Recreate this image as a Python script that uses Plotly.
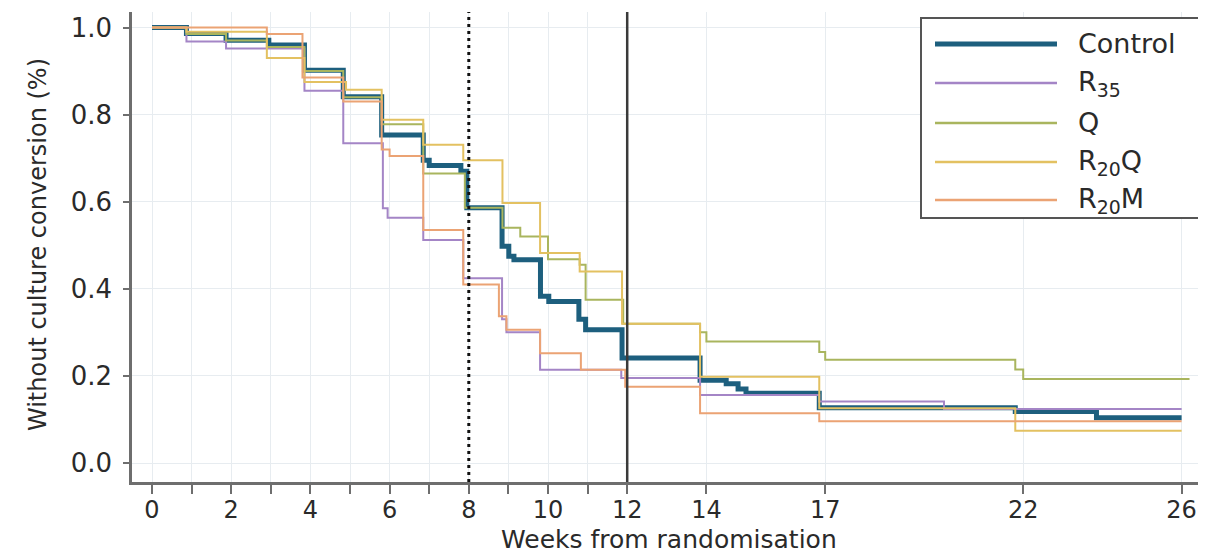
import plotly.graph_objects as go

# ---- data (weeks from randomisation, proportion without culture conversion) ----
control_t = [0, 0.87, 1.87, 2.95, 3.85, 4.83, 5.8, 6.85, 7.0, 7.8, 7.95, 8.84, 9.01, 9.14, 9.81, 10.02,
             10.78, 10.95, 11.87, 13.84, 14.5, 14.8, 15.0, 16.85, 21.8, 23.85, 26.0]
control_s = [1.0, 0.986, 0.971, 0.96, 0.902, 0.841, 0.753, 0.695, 0.683, 0.67, 0.586, 0.498, 0.475, 0.467,
             0.383, 0.371, 0.33, 0.306, 0.241, 0.19, 0.182, 0.17, 0.16, 0.127, 0.118, 0.104, 0.104]

r35_t = [0, 0.87, 1.87, 3.85, 4.83, 5.83, 5.95, 6.85, 7.86, 8.84, 8.95, 9.8, 11.85, 13.84, 16.85, 20.0, 26.0]
r35_s = [1.0, 0.968, 0.952, 0.855, 0.734, 0.585, 0.563, 0.512, 0.424, 0.33, 0.30, 0.214, 0.195, 0.156,
         0.141, 0.124, 0.124]

q_t = [0, 0.87, 1.87, 2.9, 3.85, 4.83, 5.8, 6.85, 7.9, 8.85, 9.3, 10.0, 10.8, 10.95, 11.9, 13.84, 14.0,
       16.85, 17.0, 21.8, 22.0, 26.2]
q_s = [1.0, 0.985, 0.97, 0.955, 0.9, 0.84, 0.778, 0.665, 0.586, 0.54, 0.52, 0.468, 0.455, 0.375, 0.32,
       0.30, 0.279, 0.255, 0.237, 0.215, 0.193, 0.193]

r20q_t = [0, 0.87, 2.9, 3.85, 4.9, 5.8, 6.85, 7.86, 8.85, 9.8, 10.8, 11.87, 13.84, 16.85, 21.8, 26.0]
r20q_s = [1.0, 0.99, 0.93, 0.875, 0.857, 0.788, 0.731, 0.695, 0.597, 0.482, 0.44, 0.32, 0.198, 0.126,
          0.074, 0.074]

r20m_t = [0, 2.9, 3.8, 4.83, 5.8, 6.0, 6.85, 7.86, 8.76, 8.95, 9.8, 10.83, 11.95, 13.84, 16.85, 26.0]
r20m_s = [1.0, 0.985, 0.885, 0.83, 0.72, 0.705, 0.535, 0.41, 0.337, 0.306, 0.252, 0.214, 0.175, 0.114,
          0.096, 0.096]

series_names = ["Control", "R<sub>35</sub>", "Q", "R<sub>20</sub>Q", "R<sub>20</sub>M"]
series_colors = ["#1d5f7e", "#a485c6", "#a9b55e", "#e3c161", "#eba374"]
series_widths = [5, 2, 2, 2, 2]

x_tick_vals = [0, 2, 4, 6, 8, 10, 12, 14, 17, 22, 26]
x_tick_text = [str(v) for v in x_tick_vals]
x_minor_vals = [1, 3, 5, 7, 9, 11]
y_tick_vals = [0.0, 0.2, 0.4, 0.6, 0.8, 1.0]
y_tick_text = ["0.0", "0.2", "0.4", "0.6", "0.8", "1.0"]

dotted_week = 8
solid_week = 12

FONT = "DejaVu Sans"
TXT = "#2a2a2a"
AX = "#6e6e6e"
GRID = "#e7ecf0"

fig = go.Figure()
all_t = [control_t, r35_t, q_t, r20q_t, r20m_t]
all_s = [control_s, r35_s, q_s, r20q_s, r20m_s]
for t, s, n, c, w in zip(all_t, all_s, series_names, series_colors, series_widths):
    fig.add_trace(go.Scatter(x=t, y=s, mode="lines", name=n, line=dict(color=c, width=w, shape="hv"),
                             showlegend=False))

# The page body adds an 8px offset; the figure is sized so it fills the 1206x554 window.
OFF = 8
W, H = 1206 - OFF, 554 - OFF
# plot area in window pixels: x 132..1206, y 12..482
L, R, T, B = 132 - OFF, 0, 12 - OFF, 554 - 482
pw = W - L - R
ph = H - T - B


def px(xw):
    return (xw - OFF - L) / pw


def py(yw):
    return (H - B - (yw - OFF)) / ph


fig.update_layout(
    width=W, height=H,
    margin=dict(l=L, r=R, t=T, b=B),
    paper_bgcolor="white", plot_bgcolor="white",
    font=dict(family=FONT, color=TXT),
    xaxis=dict(range=[-0.505, 26.616], tickmode="array", tickvals=x_tick_vals, ticktext=x_tick_text,
               showgrid=True, gridcolor=GRID, gridwidth=1, zeroline=False,
               showline=True, linecolor=AX, linewidth=2.5, ticks="outside", ticklen=9, tickwidth=2,
               tickcolor=AX, tickfont=dict(family=FONT, size=24, color=TXT), ticklabelstandoff=-5,
               minor=dict(tickmode="array", tickvals=x_minor_vals, ticks="outside", ticklen=9,
                          tickwidth=2, tickcolor=AX, showgrid=True, gridcolor=GRID, gridwidth=1)),
    yaxis=dict(range=[-0.0436, 1.0356], tickmode="array", tickvals=y_tick_vals, ticktext=y_tick_text,
               showgrid=True, gridcolor=GRID, gridwidth=1, zeroline=False,
               showline=True, linecolor=AX, linewidth=2.5, ticks="outside", ticklen=6, tickwidth=2,
               tickcolor=AX, tickfont=dict(family=FONT, size=26, color=TXT), ticklabelstandoff=6),
)

# reference lines at week 8 (dotted) and week 12 (solid)
fig.add_shape(type="line", xref="x", yref="paper", x0=dotted_week, x1=dotted_week, y0=0, y1=1,
              line=dict(color="#111111", width=3, dash="3px,4px"), layer="above")
fig.add_shape(type="line", xref="x", yref="paper", x0=solid_week, x1=solid_week, y0=0, y1=1,
              line=dict(color="#3a3a3a", width=2.5), layer="above")

# axis titles
fig.add_annotation(text="Weeks from randomisation", xref="paper", yref="paper", x=0.5, y=py(539),
                   xanchor="center", yanchor="middle", showarrow=False,
                   font=dict(family=FONT, size=25, color=TXT))
fig.add_annotation(text="Without culture conversion (%)", xref="paper", yref="paper", x=px(38),
                   y=py(245), xanchor="center", yanchor="middle", textangle=-90, showarrow=False,
                   font=dict(family=FONT, size=24, color=TXT))

# legend box drawn manually (long sample lines as in the reference)
fig.add_shape(type="rect", xref="paper", yref="paper", x0=px(921), x1=px(1202), y0=py(218), y1=py(18),
              line=dict(color="#555555", width=2), fillcolor="white", layer="above")
legend_y = [44, 83, 123, 162, 200]
for n, c, w, ly in zip(series_names, series_colors, series_widths, legend_y):
    fig.add_shape(type="line", xref="paper", yref="paper", x0=px(935), x1=px(1057), y0=py(ly), y1=py(ly),
                  line=dict(color=c, width=w if w > 2 else 2.5), layer="above")
    fig.add_annotation(text=n, xref="paper", yref="paper", x=px(1076), y=py(ly), xanchor="left",
                       yanchor="middle", showarrow=False, font=dict(family=FONT, size=27, color=TXT))

fig.write_html("out.html")
